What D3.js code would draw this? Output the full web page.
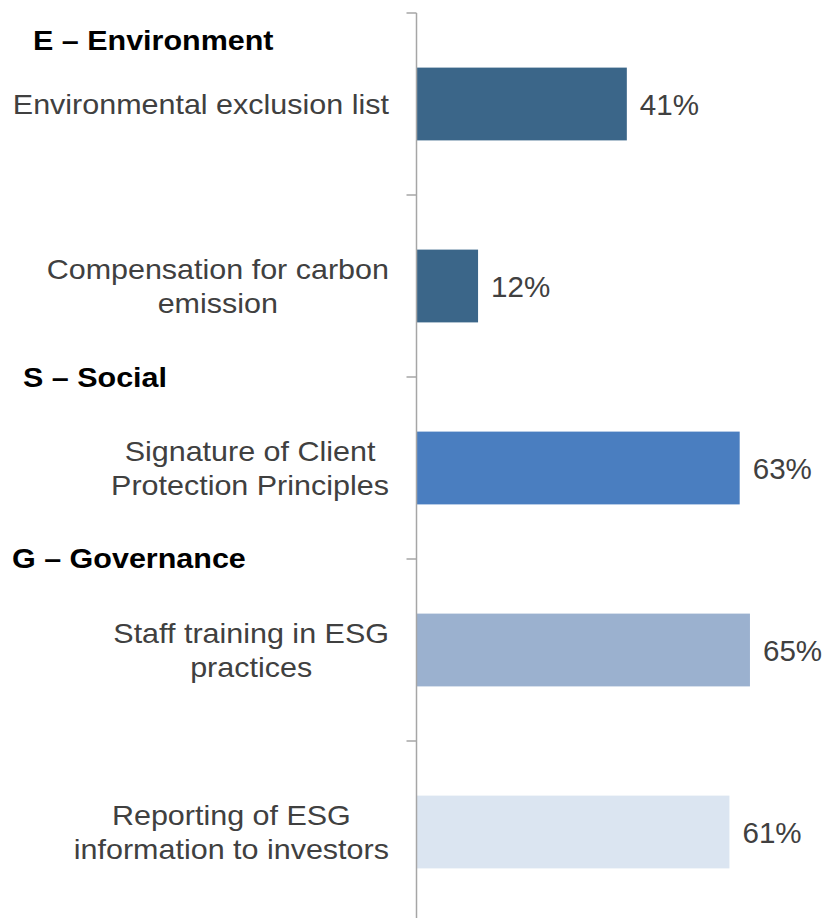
<!DOCTYPE html>
<html>
<head>
<meta charset="utf-8">
<script src="https://cdn.jsdelivr.net/npm/d3@7/dist/d3.min.js"></script>
<style>
  html, body { margin: 0; padding: 0; background: #ffffff; }
  svg { display: block; font-family: "Liberation Sans", Arial, sans-serif; }
</style>
</head>
<body>
<svg id="chart" width="825" height="918"></svg>
<script>
// ESG practices: share of respondents applying each practice
const categories = [
  "Environmental exclusion list",
  "Compensation for carbon emission",
  "Signature of Client Protection Principles",
  "Staff training in ESG practices",
  "Reporting of ESG information to investors"
];
const labelLines = [
  ["Environmental exclusion list"],
  ["Compensation for carbon", "emission"],
  ["Signature of Client", "Protection Principles"],
  ["Staff training in ESG", "practices"],
  ["Reporting of ESG", "information to investors"]
];
const values = [41, 12, 63, 65, 61];
const barColors = ["#3b6689", "#3b6689", "#4a7ec0", "#9bb1cf", "#dbe5f1"];
const groupHeaders = ["E \u2013 Environment", "S \u2013 Social", "G \u2013 Governance"];

const svg = d3.select("#chart");

// layout
const axisX = 416.5;
const y = d3.scaleBand()
  .domain(categories)
  .range([13, 923])
  .paddingInner(0.6)
  .paddingOuter(0.3);
const x = d3.scaleLinear().domain([0, 100]).range([axisX, 929.5]);

const labelFont = 28.5, labelStretch = 1.07, lineGap = 33.5;
const valueFont = 29, valueStretch = 1.02;

// bars
svg.append("g").selectAll("rect")
  .data(values)
  .join("rect")
  .attr("x", x(0))
  .attr("y", (d, i) => y(categories[i]))
  .attr("width", d => x(d) - x(0))
  .attr("height", y.bandwidth())
  .attr("fill", (d, i) => barColors[i]);

// value labels
svg.append("g").selectAll("text")
  .data(values)
  .join("text")
  .attr("transform", (d, i) =>
    `translate(${x(d) + 13},${y(categories[i]) + y.bandwidth() / 2 + 10.5}) scale(${valueStretch},1)`)
  .attr("font-size", valueFont)
  .attr("fill", "#404040")
  .text(d => d + "%");

// vertical axis with ticks between categories
const axis = svg.append("g").attr("stroke", "#a6a6a6").attr("stroke-width", 1.5);
const r0 = y.range()[0];
axis.append("line")
  .attr("x1", axisX).attr("x2", axisX)
  .attr("y1", r0).attr("y2", y.range()[1]);
axis.selectAll("line.tick")
  .data(d3.range(categories.length + 1))
  .join("line")
  .attr("class", "tick")
  .attr("x1", axisX - 10).attr("x2", axisX)
  .attr("y1", i => r0 + i * y.step())
  .attr("y2", i => r0 + i * y.step());

// category labels: block right-aligned next to the axis, lines centred within it
const labelRight = 389;
const lg = svg.append("g");
labelLines.forEach((lines, i) => {
  const cy = y(categories[i]) + y.bandwidth() / 2;
  const firstBase = cy + 10 - (lines.length - 1) * lineGap / 2;
  const nodes = lines.map((t, j) =>
    lg.append("text")
      .attr("font-size", labelFont)
      .attr("fill", "#404040")
      .attr("text-anchor", "middle")
      .text(t)
      .datum(firstBase + j * lineGap));
  const widest = d3.max(nodes, n => n.node().getComputedTextLength()) * labelStretch;
  const cx = labelRight - widest / 2;
  nodes.forEach(n => n.attr("transform", d => `translate(${cx},${d}) scale(${labelStretch},1)`));
});

// group headers
const headerPos = [[33, 50], [23, 387], [12, 568]];
svg.append("g").selectAll("text")
  .data(groupHeaders)
  .join("text")
  .attr("transform", (d, i) => `translate(${headerPos[i][0]},${headerPos[i][1]}) scale(${labelStretch},1)`)
  .attr("font-size", labelFont)
  .attr("font-weight", "bold")
  .attr("fill", "#000000")
  .text(d => d);
</script>
</body>
</html>
